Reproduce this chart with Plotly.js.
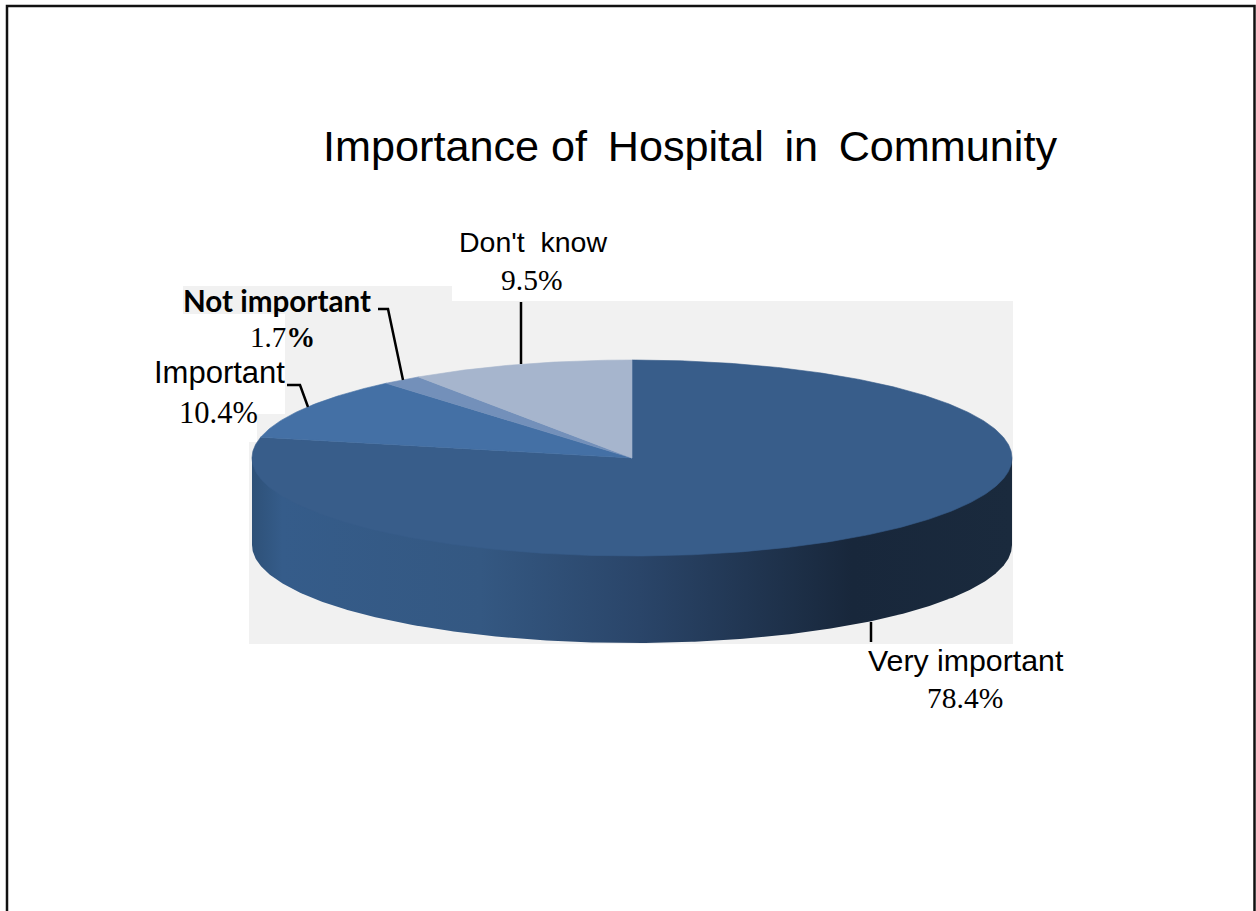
<!DOCTYPE html>
<html>
<head>
<meta charset="utf-8">
<script src="https://cdn.plot.ly/plotly-3.0.1.min.js"></script>
<style>html,body{margin:0;padding:0;background:#fff}#chart{width:1256px;height:911px}</style>
</head>
<body>
<div id="chart"></div>
<script>
const categories = ["Very important", "Important", "Not important", "Don't know"];
const values = [78.4, 10.4, 1.7, 9.5];
const valueLabels = ["78.4%", "10.4%", "1.7", "9.5%"];
const sliceColors = ["#385d8a", "#4470a5", "#7390ba", "#a6b5cd"];
const chartTitle = "Importance of\u00a0\u2009Hospital\u00a0\u2009in\u00a0\u2009Community";

// Pie projection (in axis units, axes map 1:1 to the page)
const cx = 632, cy = 458, rx = 380, ry = 98, depth = 87;
const total = values.reduce((a, b) => a + b, 0);

function arc(a0, a1, yc) {
  const xs = [], ys = [];
  const n = Math.max(2, Math.ceil(Math.abs(a1 - a0) / 0.5));
  for (let i = 0; i <= n; i++) {
    const t = (a0 + (a1 - a0) * i / n) * Math.PI / 180;
    xs.push(cx + rx * Math.sin(t));
    ys.push(yc - ry * Math.cos(t));
  }
  return [xs, ys];
}

const traces = [];

// Front wall of the disc (runs up under the top face so no seam shows)
const [wx2, wy2] = arc(90, 270, cy + depth);
traces.push({
  type: "scatter", mode: "lines", name: "wall", showlegend: false, hoverinfo: "skip",
  x: [cx - rx, cx + rx].concat(wx2), y: [cy, cy].concat(wy2),
  fill: "toself", line: { width: 0 },
  fillgradient: {
    type: "horizontal",
    colorscale: [[0, "#2e5178"], [0.04, "#355c8a"], [0.3, "#345882"], [0.51, "#2a4569"], [0.79, "#18273b"], [1, "#1a2a3d"]]
  }
});

// Top-face slices, clockwise from 12 o'clock
let acc = 0;
categories.forEach((name, i) => {
  const a0 = acc / total * 360;
  acc += values[i];
  const a1 = acc / total * 360;
  const [ax, ay] = arc(a0, a1, cy);
  traces.push({
    type: "scatter", mode: "lines", name: name, showlegend: false,
    x: [cx].concat(ax, [cx]), y: [cy].concat(ay, [cy]),
    fill: "toself", fillcolor: sliceColors[i], line: { width: 0.6, color: sliceColors[i] },
    text: name + " " + values[i] + "%", hoverinfo: "text"
  });
});

const leader = (path) => ({ type: "path", path, line: { color: "#000", width: 2.5 }, layer: "above", xref: "x", yref: "y" });

const sans = "Liberation Sans, Arial, sans-serif";
const serif = "Liberation Serif, Times New Roman, serif";
const ann = (text, x, y, size, family, xanchor) => ({
  text, x, y, xref: "x", yref: "y", showarrow: false, xanchor: xanchor || "center", yanchor: "middle",
  font: { size, family, color: "#000" }
});

const layout = {
  width: 1256, height: 911,
  margin: { l: 0, r: 0, t: 0, b: 0 },
  paper_bgcolor: "#fff", plot_bgcolor: "#fff",
  showlegend: false,
  title: {
    text: chartTitle, x: 323 / 1256, xanchor: "left", xref: "paper",
    y: 1 - 146 / 911, yanchor: "middle", yref: "paper",
    font: { size: 43.2, family: sans, color: "#000" }
  },
  xaxis: { range: [0, 1256], visible: false, fixedrange: true },
  yaxis: { range: [911, 0], visible: false, fixedrange: true },
  shapes: [
    { type: "path", layer: "below", xref: "x", yref: "y", fillcolor: "#f1f1f1", line: { width: 0 },
      path: "M183,286 L452,286 L452,301 L1013,301 L1013,644 L249,644 L249,442 L257,442 L257,414 L285,414 L285,314 L183,314 Z" },
    { type: "path", layer: "above", xref: "x", yref: "y", line: { color: "#111", width: 2.5 },
      path: "M7,911 L7,6 L1254.5,6 L1254.5,911" },
    leader("M521,302 L521,364"),
    leader("M378,309 L388,309 L403,380"),
    leader("M287,385 L300,385 L308,407"),
    leader("M871,622 L871,642")
  ],
  annotations: [
    ann("Don't\u00a0 know", 533, 242, 28.5, sans),
    ann(valueLabels[3], 531, 280, 29.5, serif),
    ann("<b>" + categories[2] + "</b>", 181, 300, 29.6, "Lato, sans-serif", "left"),
    ann(valueLabels[2] + "<b>%</b>", 248, 337, 29, serif, "left"),
    ann(categories[1], 152, 372, 31, sans, "left"),
    ann(valueLabels[1], 177, 413, 30.5, serif, "left"),
    ann(categories[0], 866, 660, 30.3, sans, "left"),
    ann(valueLabels[0], 925, 698, 29.5, serif, "left")
  ]
};

Plotly.newPlot("chart", traces, layout, { displayModeBar: false, responsive: false });
</script>
</body>
</html>
